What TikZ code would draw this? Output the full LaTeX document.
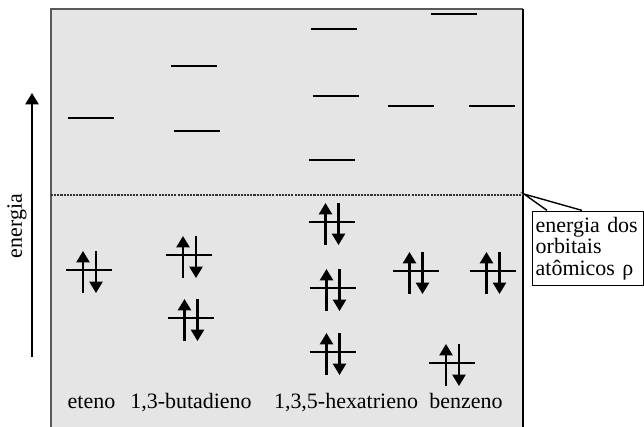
\documentclass[tikz,border=0pt]{standalone}
\usepackage{fontspec}
\setmainfont{Liberation Serif}
\usetikzlibrary{arrows.meta}
\tikzset{
	nivel/.style={line width=1.5pt},
	nivelfino/.style={line width=1pt},
	spin/.style={line width=1.2pt,-{Triangle[width=7.5pt,length=6.5pt]}},
	rotulo/.style={anchor=base,font=\fontsize{12.5}{12}\selectfont,inner sep=0pt},
}
\begin{document}
\begin{tikzpicture}[x=0.02cm,y=-0.02cm]
	\useasboundingbox (0,0) rectangle (644,426);
	\path
	(51,9) coordinate (NW)
	(523,440) coordinate (SE)
	(51,195) coordinate (P1)
	(523,195) coordinate (P2)
	(524,194) coordinate (T)
	(547,210.4) coordinate (B1)
	(582,210.4) coordinate (B2)
	(32,357) coordinate (E1)
	(32,93) coordinate (E2)
	;
	\fill[black!10] (NW) rectangle (SE);
	\draw[black!65,line width=0.8pt] (51,440) -- (NW) -- (523,9);
	\draw[line width=0.8pt] (523,9) -- (SE);
	\draw[black!80,line width=1.2pt,dash pattern=on 1.2pt off 0.6pt] (P1) -- (P2);
	\foreach \c/\y in {90.5/118,333.5/29,453.5/14,411/106,492/106} \draw[nivel] (\c-23,\y) -- (\c+23,\y);
	\foreach \c/\y in {194/66,197/131,335.5/96,332/160} \draw[nivelfino] (\c-23,\y) -- (\c+23,\y);
	\foreach \c/\y in {89/270,189/255,190.5/318,331.5/222,332.5/288,332.5/352,415.5/271,492.5/271,452/363} {
		\draw[nivel] (\c-23,\y) -- (\c+23,\y);
		\draw[spin] (\c-6,\y+23) -- (\c-6,\y-19);
		\draw[spin] (\c+7,\y-19) -- (\c+7,\y+23);
	}
	\draw[spin] (E1) -- (E2);
	\node[rotate=90,font=\fontsize{12.5}{12}\selectfont] (energia) at (17,226) {energia};
	\node[rotulo] (eteno) at (91.5,408) {eteno};
	\node[rotulo] (butadieno) at (191,408) {1,3-butadieno};
	\node[rotulo] (hexatrieno) at (346,408) {1,3,5-hexatrieno};
	\node[rotulo] (benzeno) at (466,408) {benzeno};
	\node[draw,fill=white,line width=0.8pt,anchor=north west,text width=2.1cm,inner xsep=0.06cm,
		minimum height=1.48cm,align=left,font=\fontsize{12.5}{12}\selectfont] (nota) at (532,211)
		{energia dos\\orbitais\\atômicos ρ};
	\draw[fill=white,line width=0.8pt] (B1) -- (T) -- (B2);
\end{tikzpicture}
\end{document}
